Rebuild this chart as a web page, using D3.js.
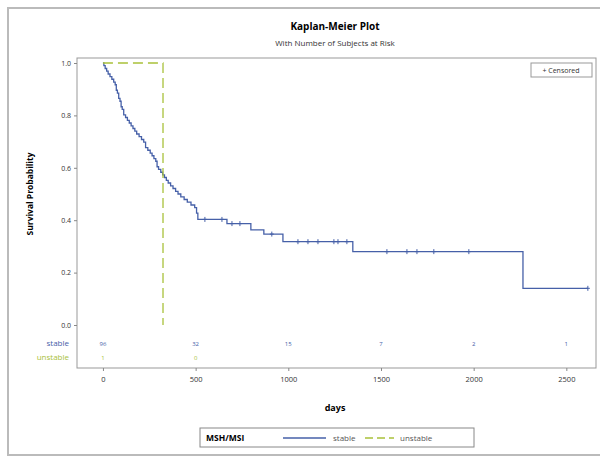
<!DOCTYPE html>
<html>
<head>
<meta charset="utf-8">
<script src="https://cdn.jsdelivr.net/npm/d3@7"></script>
<style>
body{margin:0;background:#fff;}
text{font-family:"Open Sans",sans-serif;}
</style>
</head>
<body>
<svg width="600" height="458"></svg>
<script>
const svg=d3.select('svg');
const width=+svg.attr('width');
const height=+svg.attr('height');
const margin={top:58,right:4,bottom:90,left:77};

// stable group: step points (days, survival after the step)
const stableDays=[0,5,12,20,28,38,48,58,66,72,78,85,92,98,104,112,122,132,142,152,162,172,182,195,208,220,230,242,255,265,275,285,292,300,312,322,332,342,352,365,378,392,405,420,438,455,475,495,505,512,669,798,868,971,1348,2266,2616];
const stableSurv=[1,0.99,0.979,0.969,0.958,0.948,0.938,0.927,0.917,0.896,0.885,0.865,0.854,0.833,0.823,0.802,0.792,0.781,0.771,0.76,0.75,0.74,0.729,0.719,0.708,0.698,0.677,0.667,0.656,0.646,0.635,0.625,0.604,0.594,0.583,0.573,0.563,0.552,0.542,0.531,0.521,0.51,0.5,0.489,0.479,0.469,0.458,0.448,0.427,0.403,0.387,0.363,0.347,0.318,0.28,0.14,0.14];
// censored times for stable
const censorDays=[550,642,696,739,911,1052,1106,1160,1246,1268,1316,1532,1640,1694,1785,1974,2616];
// unstable group
const unstableDays=[0,324,324];
const unstableSurv=[1,1,0];
// number at risk
const riskTimes=[0,500,1000,1500,2000,2500];
const riskStable=[96,32,15,7,2,1];
const riskUnstable=[1,0];
const yTicks=[0,0.2,0.4,0.6,0.8,1.0];
const xTicks=[0,500,1000,1500,2000,2500];

const blue='#4660a8', green='#a9c13a';

// outer frame
svg.append('rect').attr('x',8).attr('y',8).attr('width',600).attr('height',447)
   .attr('fill','none').attr('stroke','#bbb').attr('stroke-width',2);

svg.append('text').attr('x',335).attr('y',30).attr('text-anchor','middle')
   .style('font-weight','bold').style('font-size','10px').text('Kaplan-Meier Plot');
svg.append('text').attr('x',335).attr('y',46).attr('text-anchor','middle')
   .style('font-size','8px').attr('fill','#333').text('With Number of Subjects at Risk');

const xScale=d3.scaleLinear().domain([-140,2660]).range([margin.left,width-margin.right]);
const yScale=d3.scaleLinear().domain([0,1]).range([325,63]);
const plotBottom=height-margin.bottom;

// plot frame
svg.append('rect').attr('x',margin.left).attr('y',margin.top)
   .attr('width',width-margin.right-margin.left).attr('height',plotBottom-margin.top)
   .attr('fill','none').attr('stroke','#999').attr('stroke-width',1);

// y axis
const yAxis=d3.axisLeft(yScale).tickValues(yTicks).tickFormat(d3.format('.1f')).tickSize(3);
const gy=svg.append('g').attr('transform',`translate(${margin.left},0)`).call(yAxis);
gy.select('.domain').remove();
gy.selectAll('text').style('font-size','7px').attr('fill','#333');
gy.selectAll('line').attr('stroke','#888');

// x axis
const xAxis=d3.axisBottom(xScale).tickValues(xTicks).tickFormat(d3.format('d')).tickSize(3);
const gx=svg.append('g').attr('transform',`translate(0,${plotBottom})`).call(xAxis);
gx.select('.domain').remove();
gx.selectAll('text').style('font-size','7.5px').attr('fill','#333').attr('dy','1.1em');
gx.selectAll('line').attr('stroke','#888');

svg.append('text').attr('x',335).attr('y',411).attr('text-anchor','middle')
   .style('font-weight','bold').style('font-size','9px').text('days');
svg.append('text').attr('transform','translate(33,194)rotate(-90)').attr('text-anchor','middle')
   .style('font-weight','bold').style('font-size','8.5px').text('Survival Probability');

// curves
const line=d3.line().x(d=>xScale(d[0])).y(d=>yScale(d[1])).curve(d3.curveStepAfter);
svg.append('path').datum(stableDays.map((d,i)=>[d,stableSurv[i]]))
   .attr('d',line).attr('fill','none').attr('stroke',blue).attr('stroke-width',1.3);
svg.append('path').datum(unstableDays.map((d,i)=>[d,unstableSurv[i]]))
   .attr('d',line).attr('fill','none').attr('stroke',green).attr('stroke-width',1.3)
   .attr('stroke-dasharray','10,5');

// censor marks
const survAt=t=>{let s=1;for(let i=0;i<stableDays.length;i++){if(stableDays[i]<=t)s=stableSurv[i];}return s;};
svg.append('g').selectAll('path').data(censorDays).join('path')
   .attr('d',d=>{const x=xScale(d),y=yScale(survAt(d));return `M${x-2},${y}H${x+2}M${x},${y-2.5}V${y+2.5}`;})
   .attr('stroke',blue).attr('stroke-width',1);

// censored legend
svg.append('rect').attr('x',531).attr('y',63).attr('width',61).attr('height',14)
   .attr('fill','#fff').attr('stroke','#999');
svg.append('text').attr('x',561).attr('y',73).attr('text-anchor','middle')
   .style('font-size','7px').attr('fill','#333').text('+ Censored');

// at risk table
svg.append('g').selectAll('text').data(riskStable).join('text')
   .attr('x',(d,i)=>xScale(riskTimes[i])).attr('y',346).attr('text-anchor','middle')
   .style('font-size','6px').attr('fill',blue).text(d=>d);
svg.append('g').selectAll('text').data(riskUnstable).join('text')
   .attr('x',(d,i)=>xScale(riskTimes[i])).attr('y',360).attr('text-anchor','middle')
   .style('font-size','6px').attr('fill',green).text(d=>d);
svg.append('text').attr('x',69).attr('y',346).attr('text-anchor','end')
   .style('font-size','8px').attr('fill',blue).text('stable');
svg.append('text').attr('x',69).attr('y',360).attr('text-anchor','end')
   .style('font-size','8px').attr('fill',green).text('unstable');

// bottom legend
const lg=svg.append('g').attr('transform','translate(200,428)');
lg.append('rect').attr('width',274).attr('height',19).attr('fill','#fff').attr('stroke','#888');
lg.append('text').attr('x',6).attr('y',13).style('font-weight','bold').style('font-size','8.5px').text('MSH/MSI');
lg.append('line').attr('x1',83).attr('x2',126).attr('y1',10).attr('y2',10).attr('stroke',blue).attr('stroke-width',1.5);
lg.append('text').attr('x',133).attr('y',13).style('font-size','8px').attr('fill','#555').text('stable');
lg.append('line').attr('x1',165).attr('x2',194).attr('y1',10).attr('y2',10).attr('stroke',green)
  .attr('stroke-width',1.5).attr('stroke-dasharray','8,4');
lg.append('text').attr('x',200).attr('y',13).style('font-size','8px').attr('fill','#555').text('unstable');
</script>
</body>
</html>
